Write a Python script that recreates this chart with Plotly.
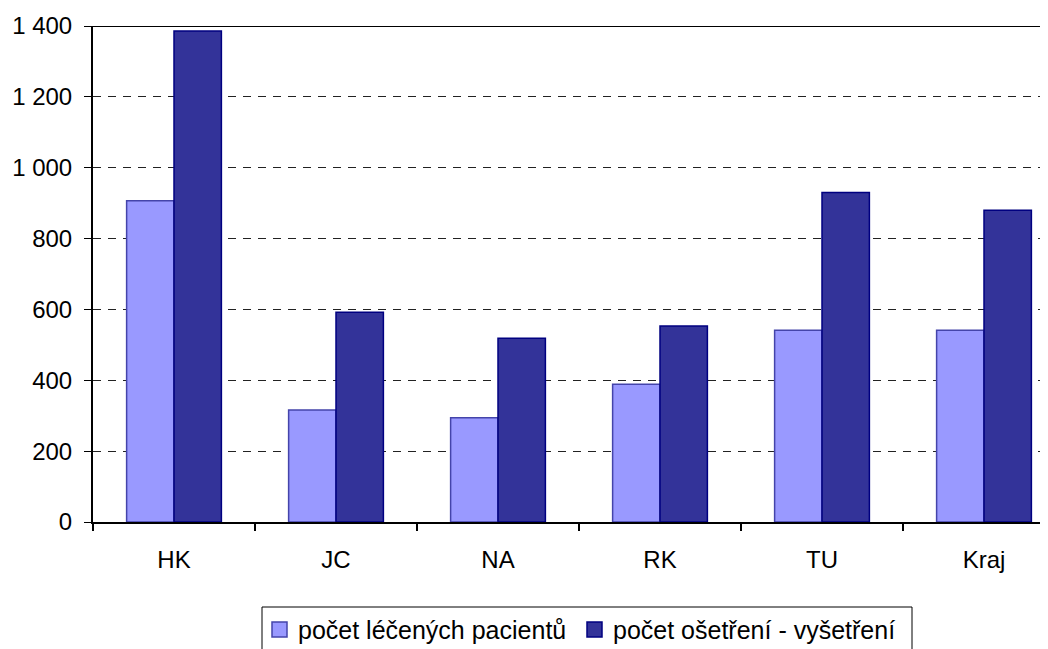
import plotly.graph_objects as go

categories = ["HK", "JC", "NA", "RK", "TU", "Kraj"]
patients = [907, 316, 294, 389, 541, 541]
treatments = [1386, 592, 519, 553, 930, 880]
y_ticks = [0, 200, 400, 600, 800, 1000, 1200, 1400]
y_tick_labels = ["0", "200", "400", "600", "800", "1 000", "1 200", "1 400"]
series_names = ["počet léčených pacientů", "počet ošetření - vyšetření"]
series_fill = ["#9999FF", "#333399"]
series_edge = ["#4444AA", "#000080"]

FONT = "Liberation Sans, Arial, sans-serif"

# page has an 8px body margin; compensate so the plot lands where the reference has it
OFF = 8
W, H = 1048, 649
L, T = 93 - OFF, 26 - OFF
B = H - (522 - OFF)
PW, PH = W - L, H - T - B


def px_x(p):
    return (p - OFF - L) / PW


def px_y(p):
    return (H - B - (p - OFF)) / PH


fig = go.Figure()
for name, vals, fill, edge in zip(series_names, [patients, treatments], series_fill, series_edge):
    fig.add_trace(go.Bar(
        x=categories, y=vals, name=name, showlegend=False,
        marker=dict(color=fill, line=dict(color=edge, width=1.5)),
    ))

fig.update_layout(
    width=W, height=H,
    margin=dict(l=L, r=0, t=T, b=B),
    plot_bgcolor="white", paper_bgcolor="white",
    barmode="group", bargap=0.415, bargroupgap=0,
    font=dict(family=FONT, size=24, color="black"),
    showlegend=False,
)

fig.update_xaxes(
    type="category",
    range=[-0.5, -0.5 + PW / 162],
    tickson="boundaries",
    ticks="outside", ticklen=7, tickwidth=2, tickcolor="black",
    showline=True, linecolor="black", linewidth=2,
    showgrid=False, automargin=False,
    ticklabelstandoff=15,
    tickfont=dict(family=FONT, size=24, color="black"),
)

fig.update_yaxes(
    range=[0, 1400],
    tickmode="array", tickvals=y_ticks, ticktext=y_tick_labels,
    ticks="outside", ticklen=7, tickwidth=1, tickcolor="black",
    showline=True, linecolor="black", linewidth=2,
    showgrid=True, gridcolor="#222222", gridwidth=1, griddash="8px,7px",
    zeroline=False, automargin=False,
    ticklabelstandoff=7,
    tickfont=dict(family=FONT, size=24, color="black"),
)

# solid top border line at 1400
fig.add_shape(
    type="line", xref="x domain", yref="y",
    x0=0, x1=1, y0=1400, y1=1400,
    line=dict(color="black", width=2),
)

# legend drawn as a boxed key below the plot
fig.add_shape(
    type="rect", xref="paper", yref="paper",
    x0=px_x(262), x1=px_x(912), y0=px_y(607), y1=px_y(670),
    line=dict(color="black", width=1), fillcolor="white", layer="above",
)
key_marker_x = [272, 587]
key_text_x = [296, 611]
for mx, tx, name, fill, edge in zip(key_marker_x, key_text_x, series_names, series_fill, series_edge):
    fig.add_shape(
        type="rect", xref="paper", yref="paper",
        x0=px_x(mx), x1=px_x(mx + 15), y0=px_y(622), y1=px_y(637),
        line=dict(color=edge, width=1.5), fillcolor=fill, layer="above",
    )
    fig.add_annotation(
        xref="paper", yref="paper", x=px_x(tx), y=px_y(630),
        xanchor="left", yanchor="middle", showarrow=False,
        text=name, font=dict(family=FONT, size=25, color="black"),
    )

fig.write_html("out.html")
